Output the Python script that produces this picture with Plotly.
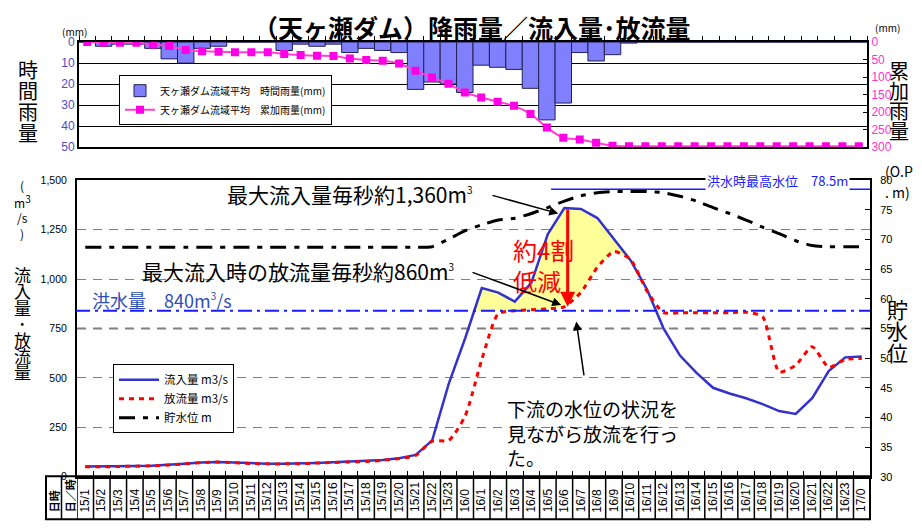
import numpy as np
import plotly.graph_objects as go

W, H = 922, 532

# categories (day/hour)
LABELS = ["15/1", "15/2", "15/3", "15/4", "15/5", "15/6", "15/7", "15/8", "15/9", "15/10",
          "15/11", "15/12", "15/13", "15/14", "15/15", "15/16", "15/17", "15/18", "15/19", "15/20",
          "15/21", "15/22", "15/23", "16/0", "16/1", "16/2", "16/3", "16/4", "16/5", "16/6",
          "16/7", "16/8", "16/9", "16/10", "16/11", "16/12", "16/13", "16/14", "16/15", "16/16",
          "16/17", "16/18", "16/19", "16/20", "16/21", "16/22", "16/23", "17/0"]

# hourly rainfall (mm)
HOURLY_RAIN = [0, 2, 1, 1, 3, 8, 10, 3, 2, 0,
               0, 0, 4, 1, 2, 1, 5, 3, 4, 5,
               22.5, 19, 20, 24, 11, 12, 13, 22, 37, 29,
               5, 9, 6, 0.5, 0, 0, 0, 0, 0, 0,
               0, 0, 0, 0, 0, 0, 0, 0]

# cumulative rainfall (mm)
CUM_RAIN = [0, 1, 2, 2, 7, 11, 23, 26, 28, 29,
            29, 29, 34, 37, 39, 40, 47, 51, 53, 61,
            82, 101, 119, 144, 158, 170, 182, 205, 244, 273,
            278, 287, 296, 297, 297, 297, 297, 297, 297, 297,
            297, 297, 297, 297, 297, 297, 297, 297]

# inflow / outflow (m3/s)
INFLOW = [52, 52, 53, 54, 56, 60, 66, 72, 75, 72,
          68, 66, 66, 67, 70, 73, 76, 78, 84, 93,
          110, 184, 470, 702, 955, 932, 886, 981, 1228, 1360,
          1355, 1309, 1203, 1096, 948, 751, 613, 525, 450, 421,
          397, 367, 332, 318, 397, 535, 604, 608]

OUTFLOW = [50, 50, 52, 53, 55, 59, 65, 71, 74, 71,
           67, 65, 65, 66, 69, 72, 75, 77, 83, 92,
           108, 180, 184, 308, 593, 825, 840, 845, 850, 860,
           933, 1060, 1140, 1100, 940, 830, 830, 830, 830, 830,
           832, 810, 530, 564, 658, 554, 594, 598]

# reservoir level (O.P. m)
LEVEL = [68.7, 68.7, 68.7, 68.7, 68.7, 68.7, 68.7, 68.7, 68.7, 68.7,
         68.7, 68.7, 68.7, 68.7, 68.7, 68.7, 68.7, 68.7, 68.7, 68.7,
         68.7, 68.8, 70.1, 71.5, 72.5, 73.3, 73.6, 74.4, 75.4, 76.5,
         77.4, 77.9, 78.1, 78.1, 78.1, 77.9, 77.3, 76.5, 75.4, 74.4,
         73.3, 72.1, 71.0, 69.8, 69.0, 68.8, 68.8, 68.8]

FLOOD_Q = 840
MAX_LEVEL = 78.5

JP = "Noto Sans CJK JP"
SUP3 = "<sup><span style='font-size:10px'>3</span></sup>"


def fx(p):
    return p / W


def fy(p):
    return 1 - p / H


x = np.arange(len(LABELS))
inflow = np.array(INFLOW, float)
outflow = np.array(OUTFLOW, float)

fig = go.Figure()

# ---- top: rainfall
fig.add_trace(go.Bar(
    x=x, y=HOURLY_RAIN, xaxis="x", yaxis="y", width=1,
    marker=dict(color="#8080ff", line=dict(color="#202050", width=1)),
    name="天ヶ瀬ダム流域平均　時間雨量(mm)", legend="legend"))
fig.add_trace(go.Scatter(
    x=x, y=CUM_RAIN, xaxis="x", yaxis="y2", mode="lines+markers",
    line=dict(color="#ff40d0", width=2, shape="spline", smoothing=0.6),
    marker=dict(symbol="square", size=8, color="#ff00e6"),
    name="天ヶ瀬ダム流域平均　累加雨量(mm)", legend="legend"))

# ---- bottom: yellow area where inflow exceeds max(outflow, flood)
lower = np.maximum(outflow, FLOOD_Q)
diff = inflow - lower
i0 = int(np.argmax(diff > 0))
i1 = i0
while diff[i1 + 1] > 0:
    i1 += 1


def cross(a, b):
    t = diff[a] / (diff[a] - diff[b])
    return a + t * (b - a), inflow[a] + t * (inflow[b] - inflow[a])


xl, yl = cross(i0 - 1, i0)
xr, yr = cross(i1, i1 + 1)
mid = list(range(i0, i1 + 1))
poly_x = [xl] + mid + [xr] + mid[::-1]
poly_y = [yl] + list(inflow[i0:i1 + 1]) + [yr] + list(lower[i0:i1 + 1][::-1])
fig.add_trace(go.Scatter(
    x=poly_x, y=poly_y, xaxis="x2", yaxis="y3", mode="lines", fill="toself",
    fillcolor="#ffff99", line=dict(width=0), showlegend=False, hoverinfo="skip"))

fig.add_trace(go.Scatter(
    x=x, y=INFLOW, xaxis="x2", yaxis="y3", mode="lines",
    line=dict(color="#3333cc", width=2.5), name="流入量 m3/s", legend="legend2"))
fig.add_trace(go.Scatter(
    x=x, y=OUTFLOW, xaxis="x2", yaxis="y3", mode="lines",
    line=dict(color="#ff0000", width=3, dash="5px,5px", shape="spline", smoothing=0.6),
    name="放流量 m3/s", legend="legend2"))
fig.add_trace(go.Scatter(
    x=x, y=LEVEL, xaxis="x2", yaxis="y4", mode="lines",
    line=dict(color="black", width=3, dash="16px,8px,5px,8px", shape="spline", smoothing=0.6),
    name="貯水位 m", legend="legend2"))

TOP_X = [fx(79), fx(867)]
TOP_Y = [fy(144), fy(36)]
BOT_X = [fx(77), fx(870)]
BOT_Y = [fy(482.4), fy(178)]
TBL_TOP, TBL_BOT = 482, 526

shapes = []
# dark gridline at 750
shapes.append(dict(type="line", xref="paper", yref="y3", x0=BOT_X[0], x1=BOT_X[1], y0=750, y1=750,
                   line=dict(color="black", width=1.3, dash="9px,7px"), layer="below"))
# flood discharge line
shapes.append(dict(type="line", xref="paper", yref="y3", x0=fx(76), x1=BOT_X[1], y0=FLOOD_Q, y1=FLOOD_Q,
                   line=dict(color="#1a1aff", width=2, dash="14px,5px,3px,5px")))
# max flood level line
shapes.append(dict(type="line", xref="x2", yref="y4", x0=28.2, x1=len(LABELS) - 0.5,
                   y0=MAX_LEVEL, y1=MAX_LEVEL, line=dict(color="#1a1aff", width=1.5)))
# table under the bottom chart
shapes.append(dict(type="rect", xref="paper", yref="paper", x0=fx(46), x1=BOT_X[1],
                   y0=fy(TBL_BOT), y1=fy(TBL_TOP), line=dict(color="black", width=2)))
shapes.append(dict(type="line", xref="paper", yref="paper", x0=fx(61.5), x1=fx(61.5),
                   y0=fy(TBL_BOT), y1=fy(TBL_TOP), line=dict(color="black", width=1.5)))
for b in np.arange(len(LABELS) + 1) - 0.5:
    shapes.append(dict(type="line", xref="x2", yref="paper", x0=b, x1=b,
                       y0=fy(TBL_BOT), y1=fy(TBL_TOP), line=dict(color="black", width=1.5)))

ann = []


def text(t, xp, yp, size, color="black", xanchor="center", yanchor="middle", **kw):
    ann.append(dict(text=t, x=fx(xp), y=fy(yp), xref="paper", yref="paper", showarrow=False,
                    xanchor=xanchor, yanchor=yanchor, font=dict(size=size, color=color, family=JP), **kw))


def vtext(chars, xc, y0, step, size, color="black"):
    for k, ch in enumerate(chars):
        text(ch, xc, y0 + k * step, size, color)


text("<b>（天ヶ瀬ダム）降雨量／流入量･放流量</b>", 472, 21, 25)
text("(mm)", 74, 25, 10)
text("(mm)", 887, 21, 10)
vtext("時間雨量", 28, 64, 21.5, 20)
vtext("累加雨量", 899, 65, 20.5, 20)
vtext(["(", "m" + SUP3, "/s", ")"], 22, 183, 16.5, 12)
vtext("流入量･放流量", 22, 275, 16.6, 17)
text("(O.P", 883, 168, 14, xanchor="left")
text(". m)", 883, 190, 14, xanchor="left")
vtext("貯水位", 897, 310, 22, 21)

text("洪水量　840m" + SUP3 + "/s", 90, 301, 18, color="#2f4fb5", xanchor="left")
text("洪水時最高水位　78.5m", 777, 178, 13, color="#1a1aff", bgcolor="white")
text("最大流入量毎秒約1,360m" + SUP3, 225, 192, 21, xanchor="left")
text("最大流入時の放流量毎秒約860m" + SUP3, 140, 271, 21, xanchor="left")
text("約4割<br>低減", 511, 265, 24, color="#ff0000", xanchor="left", align="left")
text("下流の水位の状況を<br>見ながら放流を行っ<br>た。", 505, 396, 19, xanchor="left",
     yanchor="top", align="left")

# table texts
text("<b>日時</b>", 54, 521, 11, yanchor="bottom", textangle=-90)
text("<b>日／時</b>", 69.5, 521, 11, yanchor="bottom", textangle=-90)
for i, lab in enumerate(LABELS):
    ann.append(dict(text=lab, x=i, xref="x2", y=fy(521), yref="paper", yanchor="bottom",
                    textangle=-90, showarrow=False, font=dict(size=12, color="black")))

# arrows
peak = int(np.argmax(inflow))
arrow = dict(xref="x2", yref="y3", axref="x2", ayref="y3", text="", showarrow=True,
             arrowhead=2, arrowsize=1.2, arrowwidth=1.5, arrowcolor="black")
ann.append(dict(arrow, x=28.63, y=1332, ax=24.56, ay=1426))
ann.append(dict(arrow, x=28.81, y=869, ax=23.35, ay=1037))
ann.append(dict(arrow, x=29.72, y=786, ax=30.2, ay=505))
ann.append(dict(arrow, x=peak + 0.2, y=OUTFLOW[peak], ax=peak + 0.2, ay=INFLOW[peak],
                arrowwidth=3, arrowsize=1, arrowcolor="#ff0000"))

fig.update_layout(
    width=W, height=H, margin=dict(l=0, r=0, t=0, b=0),
    paper_bgcolor="white", plot_bgcolor="white",
    font=dict(family="Liberation Sans, " + JP, color="black"),
    xaxis=dict(domain=TOP_X, anchor="y", range=[-0.5, len(LABELS) - 0.5], side="top",
               showticklabels=False, ticks="outside", tick0=-0.5, dtick=1, ticklen=4,
               tickcolor="black", showline=True, linecolor="black", linewidth=2, mirror=True,
               showgrid=False, zeroline=False),
    yaxis=dict(domain=TOP_Y, anchor="x", range=[50, 0], dtick=10,
               tickfont=dict(size=12, color="#4b4bc8"), showline=True, linecolor="black",
               linewidth=2, gridcolor="black", gridwidth=1, zeroline=False),
    yaxis2=dict(overlaying="y", anchor="x", side="right", range=[300, 0], dtick=50,
                tickfont=dict(size=12, color="#ff33cc"), showgrid=False, showline=True,
                linecolor="black", linewidth=2, zeroline=False, ticks="inside", ticklen=4,
                tickcolor="black"),
    xaxis2=dict(domain=BOT_X, anchor="y3", range=[-0.5, len(LABELS) - 0.5],
                showticklabels=False, ticks="inside", tick0=-0.5, dtick=1, ticklen=6,
                tickcolor="black", showline=True, linecolor="black", linewidth=2, mirror=True,
                showgrid=False, zeroline=False),
    yaxis3=dict(domain=BOT_Y, anchor="x2", range=[0, 1500], dtick=250, tickformat=",d",
                tickfont=dict(size=10.5), showline=True, linecolor="black", linewidth=2,
                gridcolor="#808080", gridwidth=1.3, griddash="9px,7px", zeroline=False,
                ticklabelstandoff=6),
    yaxis4=dict(overlaying="y3", anchor="x2", side="right", range=[30, 80], dtick=5,
                tickfont=dict(size=11), showgrid=False, showline=True, linecolor="black",
                linewidth=2, zeroline=False, ticks="inside", ticklen=5, tickcolor="black",
                ticklabelstandoff=6),
    legend=dict(x=fx(119), y=fy(70), xanchor="left", yanchor="top", bgcolor="white",
                bordercolor="black", borderwidth=1, font=dict(size=10, family=JP),
                tracegroupgap=0),
    legend2=dict(x=fx(113), y=fy(367), xanchor="left", yanchor="top", bgcolor="white",
                 bordercolor="black", borderwidth=1, font=dict(size=11.5, family=JP),
                 tracegroupgap=0, itemwidth=40),
    shapes=shapes,
    annotations=ann,
)

fig.write_html("out.html", config={"displayModeBar": False},
               post_script="document.body.style.margin='0';")
